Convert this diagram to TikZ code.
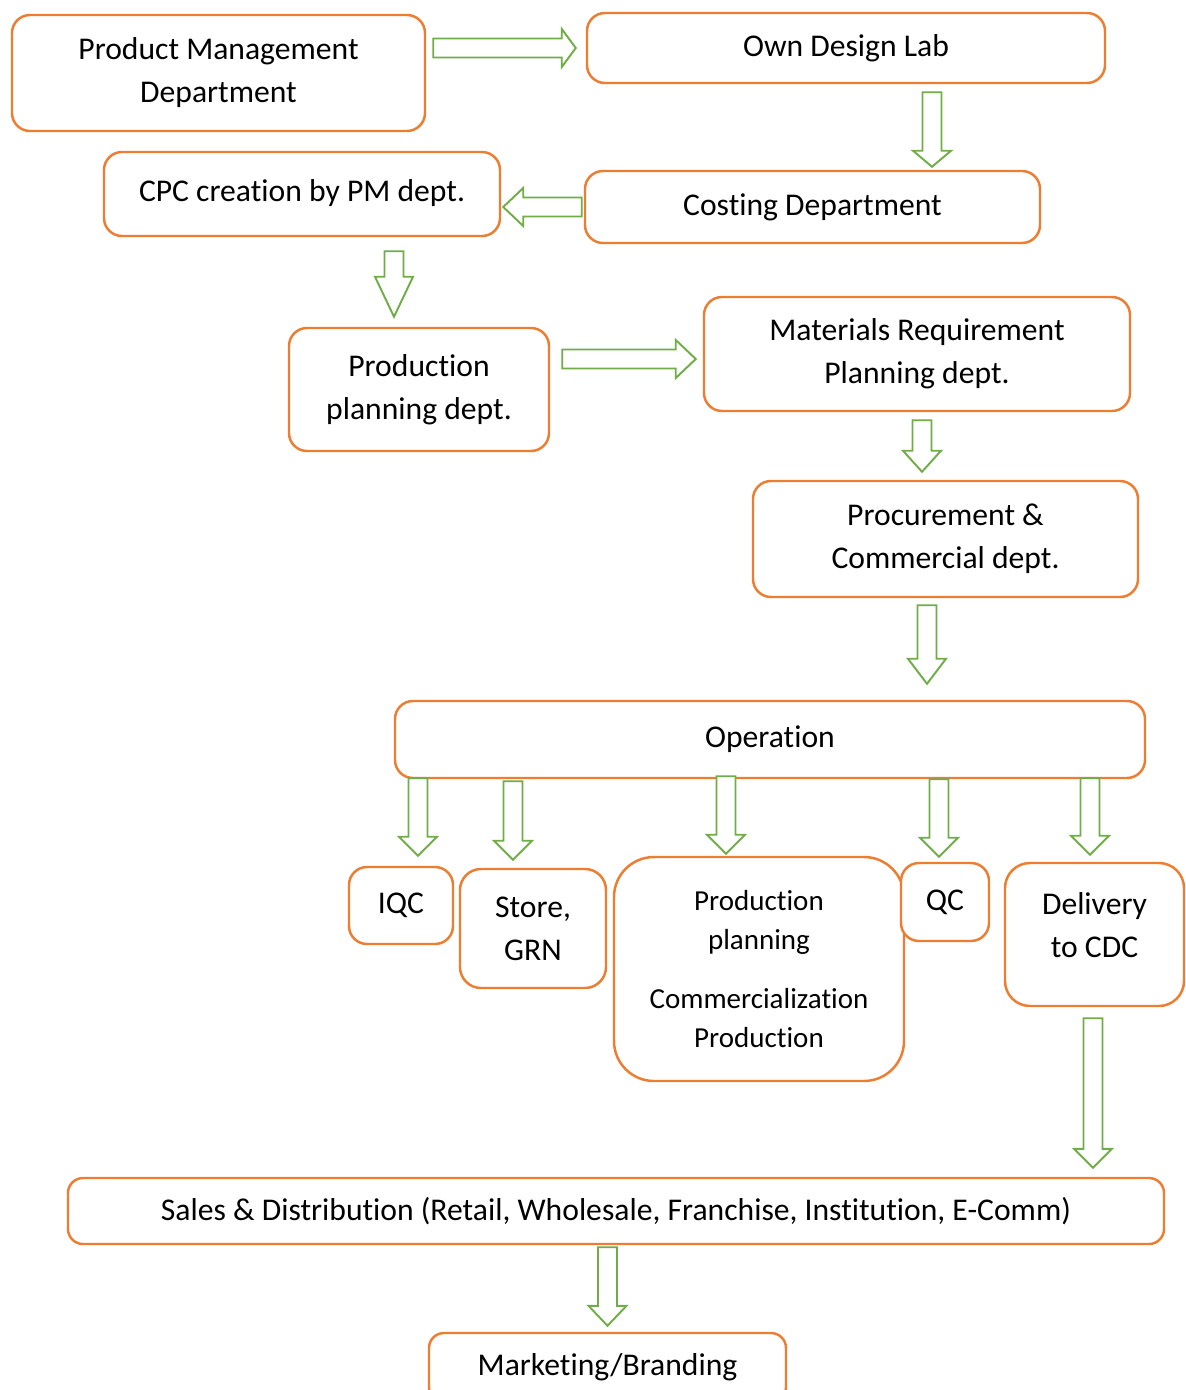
\documentclass[tikz,border=0pt]{standalone}
\usepackage{fontspec}
\setmainfont{Carlito}[Ligatures=NoCommon]
\usepackage{xcolor}
\usepackage{tikz}
\usetikzlibrary{calc,positioning}

\definecolor{deptorange}{HTML}{ED7D31}
\definecolor{arrgreen}{HTML}{70AD47}

\tikzset{
  dept/.style={draw=deptorange, line width=1.4pt, fill=white, rounded corners=0.36cm,
    align=center, inner sep=0pt, font=\fontsize{18}{24.4}\selectfont},
  blockarr/.style={draw=arrgreen, line width=1.1pt, fill=white, line join=miter}
}

\newcommand{\blockarrow}[3][0.38cm]{%
  \coordinate (ba-s) at (#2);
  \coordinate (ba-t) at (#3);
  \coordinate (ba-b) at ($(ba-t)!#1!(ba-s)$);
  \draw[blockarr] ($(ba-s)!0.19cm!90:(ba-t)$) -- ($(ba-b)!0.19cm!-90:(ba-s)$)
    -- ($(ba-b)!0.38cm!-90:(ba-s)$) -- (ba-t) -- ($(ba-b)!0.38cm!90:(ba-s)$)
    -- ($(ba-b)!0.19cm!90:(ba-s)$) -- ($(ba-s)!0.19cm!-90:(ba-t)$) -- cycle;}

\begin{document}
\begin{tikzpicture}
    \useasboundingbox (0,0) rectangle (23.7,-27.8);
    \clip (0,0) rectangle (23.7,-27.8);
    \node[dept, minimum width=8.26cm, minimum height=2.32cm] (pmd) at (4.37,-1.46) {Product Management\\Department};
    \node[dept, minimum width=10.36cm, minimum height=1.40cm] (odl) at (16.92,-0.96) {Own Design Lab};
    \node[dept, minimum width=9.10cm, minimum height=1.44cm] (cost) at (16.25,-4.14) {Costing Department};
    \node[dept, minimum width=7.92cm, minimum height=1.68cm] (cpc) at (6.04,-3.88) {CPC creation by PM dept.\\[-20pt]\mbox{}};
    \node[dept, minimum width=5.20cm, minimum height=2.46cm] (ppd) at (8.38,-7.79) {Production\\planning dept.};
    \node[dept, minimum width=8.52cm, minimum height=2.28cm] (mrp) at (18.34,-7.08) {Materials Requirement\\Planning dept.};
    \node[dept, minimum width=7.70cm, minimum height=2.32cm] (proc) at (18.91,-10.78) {Procurement \&\\Commercial dept.};
    \node[dept, minimum width=15.00cm, minimum height=1.54cm] (oper) at (15.40,-14.79) {Operation};
    \node[dept, minimum width=2.08cm, minimum height=1.54cm] (iqc) at (8.02,-18.11) {IQC};
    \node[dept, minimum width=2.92cm, minimum height=2.38cm, rounded corners=0.42cm] (store) at (10.66,-18.57) {Store,\\GRN};
    \node[dept, minimum width=5.80cm, minimum height=4.48cm, rounded corners=0.8cm,
      font=\fontsize{16.5}{22}\selectfont] (prod) at (15.18,-19.38) {Production\\planning\\[12pt]Commercialization\\Production};
    \node[dept, minimum width=1.76cm, minimum height=1.56cm] (qc) at (18.90,-18.04) {QC};
    \node[dept, minimum width=3.58cm, minimum height=2.86cm, rounded corners=0.5cm] (deliv) at (21.89,-18.69) {Delivery\\to CDC\\[-14pt]\mbox{}};
    \node[dept, minimum width=21.92cm, minimum height=1.32cm, rounded corners=0.3cm] (sales) at (12.32,-24.22) {Sales \& Distribution (Retail, Wholesale, Franchise, Institution, E-Comm)};
    \node[dept, minimum width=7.14cm, minimum height=1.38cm, rounded corners=0.3cm] (mkt) at (12.15,-27.35) {Marketing/Branding};

    \blockarrow[0.28cm]{$(pmd.east |- odl.west)+(0.14,0)$}{$(odl.west)+(-0.20,0)$}
    \blockarrow[0.32cm]{$(odl.south)+(1.72,-0.16)$}{$(cost.north)+(2.39,0.06)$}
    \blockarrow[0.40cm]{$(cost.west)+(-0.04,0)$}{$(cpc.east |- cost.west)+(0.04,0)$}
    \blockarrow[0.80cm]{$(cpc.south)+(1.84,-0.28)$}{$(ppd.north)+(-0.50,0.20)$}
    \blockarrow[0.40cm]{$(ppd.east)+(0.24,0.61)$}{$(mrp.west)+(-0.14,-0.10)$}
    \blockarrow[0.42cm]{$(mrp.south)+(0.10,-0.16)$}{$(proc.north)+(-0.47,0.16)$}
    \blockarrow[0.50cm]{$(proc.south)+(-0.37,-0.14)$}{$(oper.north)+(3.14,0.32)$}
    \blockarrow{$(iqc.north |- oper.south)+(0.34,0.02)$}{$(iqc.north)+(0.34,0.20)$}
    \blockarrow{$(store.north |- oper.south)+(-0.40,-0.04)$}{$(store.north)+(-0.40,0.16)$}
    \blockarrow{$(prod.north |- oper.south)+(-0.66,0.06)$}{$(prod.north)+(-0.66,0.04)$}
    \blockarrow{$(qc.north |- oper.south)+(-0.12,0)$}{$(qc.north)+(-0.12,0.10)$}
    \blockarrow{$(deliv.north |- oper.south)+(-0.09,0.02)$}{$(deliv.north)+(-0.09,0.14)$}
    \blockarrow{$(deliv.south)+(-0.03,-0.22)$}{$(deliv.south |- sales.north)+(-0.03,0.18)$}
    \blockarrow[0.40cm]{$(mkt.north |- sales.south)+(0,-0.04)$}{$(mkt.north)+(0,0.12)$}
\end{tikzpicture}
\end{document}
